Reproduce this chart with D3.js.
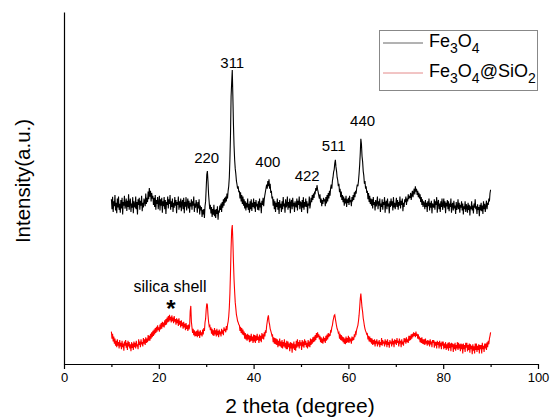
<!DOCTYPE html>
<meta charset="utf-8">
<script src="https://d3js.org/d3.v7.min.js"></script>
<style>
  body { margin: 0; background: #fff; }
  text { font-family: Arial, "Liberation Sans", sans-serif; }
</style>
<div id="chart"></div>
<script>

// 2 theta from 10 to 90 in 0.125 degree steps
var thetaStart = 10, thetaStep = 0.125

// Fe3O4 (black), one row per degree
var fe3o4 = [
  468,440,475,432,462,448,480,436, 458,428,470,445,476,438,455,430,
  466,442,472,425,460,450,478,441, 452,470,435,464,446,482,438,458,
  470,432,456,444,474,428,462,449, 446,476,440,460,425,468,452,472,
  438,464,450,478,434,458,445,470, 462,448,484,455,472,460,490,468,
  500,475,492,462,486,470,478,452, 472,446,480,438,466,455,474,440,
  460,478,436,468,450,472,430,462, 448,474,440,466,426,460,452,476,
  442,468,455,480,438,462,446,470, 432,458,444,474,450,466,428,460,
  452,476,438,462,445,470,434,458, 466,440,472,428,460,447,474,436,
  455,470,442,464,430,458,448,468, 438,462,450,476,432,456,444,466,
  452,430,460,442,468,425,450,436, 446,418,438,425,440,415,448,462,
  500,538,548,520,482,460,440,452, 428,446,418,440,424,452,420,438,
  415,440,426,448,410,436,430,450, 438,456,432,460,444,468,450,472,
  458,476,462,484,470,492,505,530, 580,650,760,800,835,760,680,620,
  580,555,540,520,510,498,505,488, 492,470,488,462,480,455,476,450,
  468,442,462,436,458,445,470,438, 455,430,462,440,468,435,458,446,
  470,442,460,432,466,448,455,438, 462,436,470,445,458,428,464,452,
  472,448,468,480,490,500,510,498, 520,505,525,498,512,486,492,470,
  476,450,468,440,462,432,458,446, 470,438,460,426,466,444,455,432,
  462,440,474,448,456,430,468,445, 452,476,438,460,444,470,428,458,
  466,440,472,448,458,432,462,450, 445,470,436,464,452,476,440,460,
  458,432,466,444,474,438,460,447, 470,446,462,428,456,450,476,442,
  455,472,460,480,466,484,472,490, 486,500,492,508,496,488,478,470,
  482,458,470,448,466,455,472,462, 468,448,474,456,480,462,486,470,
  492,478,500,510,498,520,530,545, 552,570,580,560,548,530,522,505,
  512,488,498,474,490,466,480,460, 476,450,470,456,478,446,468,458,
  472,452,478,460,466,448,474,462, 480,466,488,474,492,484,500,510,
  505,520,540,565,598,640,625,590, 575,548,535,512,520,498,505,486,
  492,468,486,460,478,455,470,450, 468,442,474,452,460,436,466,448,
  458,476,440,462,450,470,432,456, 446,468,438,460,452,474,430,458,
  464,440,470,448,456,428,462,446, 470,450,462,436,474,445,458,440,
  455,472,446,466,438,460,450,476, 442,464,452,470,434,458,446,468,
  460,476,452,470,462,482,468,478, 472,486,466,480,492,474,488,498,
  482,505,490,498,480,492,474,486, 470,482,460,474,452,468,446,462,
  456,440,466,446,458,432,462,448, 470,436,458,444,464,428,456,450,
  444,468,438,462,452,474,430,458, 466,440,456,432,462,446,470,438,
  452,470,444,462,428,458,448,466, 440,462,434,456,446,470,430,452,
  458,436,464,442,450,426,460,438, 446,468,440,458,430,452,444,462,
  436,456,425,448,440,462,432,454, 446,430,458,438,452,422,448,440,
  462,436,450,428,456,444,468,440, 448,426,454,438,446,420,452,436,
  458,434,450,426,462,440,455,432, 448,464,440,458,452,470,462,485,
  495
]

// Fe3O4@SiO2 (red)
var fe3o4sio2 = [
  92,72,86,64,78,58,72,52, 66,48,70,52,62,44,68,50,
  60,42,66,48,58,38,64,52, 68,46,60,40,66,50,62,44,
  56,36,62,46,58,40,64,48, 60,44,66,50,56,42,70,54,
  64,48,70,56,62,50,74,58, 70,54,76,60,72,62,82,66,
  80,66,86,72,90,76,94,80, 98,84,102,88,106,92,110,96,
  104,92,112,98,116,100,120,106, 118,104,124,110,128,112,132,118,
  136,120,140,124,134,118,138,122, 132,116,136,120,128,112,130,116,
  126,108,130,112,122,104,124,108, 118,100,120,104,114,96,116,100,
  110,94,112,98,106,150,165,120, 104,88,100,82,96,78,92,80,
  94,76,98,80,92,74,96,82, 90,78,98,84,102,94,118,128,
  155,172,168,140,120,108,112,96, 104,86,100,82,96,80,102,84,
  96,78,100,82,94,76,98,84, 92,78,100,86,96,82,104,94,
  100,90,108,96,112,120,135,160, 200,260,330,380,395,350,290,240,
  205,175,158,140,132,122,118,112, 110,94,106,88,102,84,98,82,
  92,72,88,70,84,66,86,70, 82,62,80,64,86,66,78,60,
  84,64,82,60,80,66,86,68, 78,60,84,66,80,62,88,72,
  84,70,90,78,96,88,108,120, 132,138,120,112,100,94,88,80,
  82,62,76,58,74,56,72,54, 70,48,66,52,72,50,64,46,
  68,44,62,50,70,46,60,42, 66,42,64,48,58,36,62,44,
  60,32,58,44,64,40,56,38, 66,46,70,50,62,44,68,52,
  62,40,68,50,64,46,70,54, 66,48,60,44,68,50,64,48,
  72,54,70,58,76,62,78,64, 82,68,88,74,90,76,84,70,
  80,62,76,60,72,58,78,64, 74,60,80,66,84,70,88,76,
  86,80,94,92,104,110,122,130, 138,140,128,118,108,100,96,88,
  90,72,86,68,82,66,78,62, 76,58,72,56,78,60,74,62,
  80,60,76,64,72,58,78,66, 76,68,84,76,90,86,98,104,
  110,122,138,160,185,200,180,160, 148,130,120,108,100,94,90,84,
  86,70,80,64,78,62,74,58, 72,54,68,56,70,50,66,58,
  70,50,64,56,68,48,62,54, 74,52,68,58,64,50,70,56,
  66,48,70,54,62,46,68,58, 64,50,72,56,66,48,70,58,
  68,54,74,60,66,50,72,62, 66,48,70,56,64,52,74,62,
  72,58,76,62,70,60,80,66, 80,68,84,72,86,76,90,80,
  88,76,92,80,86,72,84,70, 78,62,74,60,76,58,70,56,
  70,54,72,58,66,52,68,56, 66,50,70,56,64,48,68,60,
  68,46,64,52,62,44,66,54, 62,44,66,50,60,42,64,52,
  64,42,58,46,62,40,56,44, 60,38,62,46,58,36,60,48,
  58,34,56,42,60,38,54,44, 62,40,60,44,56,36,58,42,
  56,30,58,42,54,34,60,46, 60,36,54,40,58,32,56,42,
  52,28,56,38,50,30,58,40, 58,34,52,40,56,30,54,42,
  54,30,60,42,52,34,58,44, 58,40,62,48,66,56,72,80,
  90
]

var seriesColors = ["#000000", "#ff0000"]

// peak labels (hkl) and where they sit
var peakLabels = ["220", "311", "400", "422", "511", "440"]
var peakTheta  = [30.1, 35.5, 43.0, 51.3, 56.9, 63.0]
var peakLabelY = [571, 840, 561, 521, 606, 676]

var majorTicks = [0, 20, 40, 60, 80, 100]
var minorTicks = [10, 30, 50, 70, 90]

var width = 550, height = 419

var svg = d3.select("#chart").append("svg")
  .attr("width", width)
  .attr("height", height)

var x = d3.scaleLinear().domain([0, 100]).range([64, 538])
var y = d3.scaleLinear().domain([0, 1000]).range([364, 12])

function toPoints(arr) {
  return arr.map(function(v, i) { return [thetaStart + i * thetaStep, v] })
}

var line = d3.line()
  .x(function(d) { return x(d[0]) })
  .y(function(d) { return y(d[1]) })

// traces
var allSeries = [fe3o4, fe3o4sio2]
allSeries.forEach(function(s, k) {
  svg.append("path")
    .datum(toPoints(s))
    .attr("fill", "none")
    .attr("stroke", seriesColors[k])
    .attr("stroke-width", 1.1)
    .attr("d", line)
})

// axes
var xAxis = svg.append("g")
  .attr("transform", "translate(0," + y(0) + ")")
  .call(d3.axisBottom(x).tickValues(majorTicks).tickSize(5).tickSizeOuter(0).tickPadding(4))
xAxis.selectAll("text").style("font-size", "13px").attr("fill", "#000")
xAxis.selectAll("line, path").attr("stroke", "#000").attr("stroke-width", 1.2)

svg.append("g")
  .attr("transform", "translate(0," + y(0) + ")")
  .call(d3.axisBottom(x).tickValues(minorTicks).tickSize(3).tickFormat(""))
  .call(function(g) { g.select(".domain").remove() })
  .selectAll("line").attr("stroke", "#000").attr("stroke-width", 1.2)

svg.append("g")
  .attr("transform", "translate(" + x(0) + ",0)")
  .call(d3.axisLeft(y).tickValues([]).tickSizeOuter(0))
  .select(".domain").attr("stroke", "#000").attr("stroke-width", 1.2)

// axis titles
svg.append("text")
  .attr("x", 300).attr("y", 413)
  .attr("text-anchor", "middle")
  .style("font-size", "21px")
  .text("2 theta (degree)")

svg.append("text")
  .attr("transform", "translate(30,181) rotate(-90)")
  .attr("text-anchor", "middle")
  .style("font-size", "20.5px")
  .text("Intensity(a.u.)")

// hkl labels
svg.selectAll(".peak")
  .data(peakLabels)
  .enter()
  .append("text")
  .attr("class", "peak")
  .attr("x", function(d, i) { return x(peakTheta[i]) })
  .attr("y", function(d, i) { return y(peakLabelY[i]) })
  .attr("text-anchor", "middle")
  .style("font-size", "15px")
  .text(function(d) { return d })

// silica shell note
svg.append("text")
  .attr("x", 170).attr("y", 292)
  .attr("text-anchor", "middle")
  .style("font-size", "16px")
  .text("silica shell")
svg.append("text")
  .attr("x", 171).attr("y", 317)
  .attr("text-anchor", "middle")
  .style("font-size", "24px")
  .style("font-weight", "bold")
  .text("*")

// legend
var legend = svg.append("g")
legend.append("rect")
  .attr("x", 379.5).attr("y", 30.5)
  .attr("width", 158).attr("height", 60)
  .attr("fill", "#fff")
  .attr("stroke", "#888")

var legendLineColors = ["#666666", "#e48a8a"]
var legendRows = [43, 73]
legendRows.forEach(function(ry, k) {
  legend.append("line")
    .attr("x1", 383).attr("x2", 423)
    .attr("y1", ry).attr("y2", ry)
    .attr("stroke", legendLineColors[k])
    .attr("stroke-width", 1)
  var t = legend.append("text")
    .attr("x", 429).attr("y", ry + 4)
    .style("font-size", "18px")
  t.append("tspan").text("Fe")
  t.append("tspan").attr("dy", 6).style("font-size", "14px").text("3")
  t.append("tspan").attr("dy", -6).text("O")
  t.append("tspan").attr("dy", 6).style("font-size", "14px").text("4")
  if (k == 1) {
    t.append("tspan").attr("dy", -6).text("@SiO")
    t.append("tspan").attr("dy", 6).style("font-size", "14px").text("2")
  }
})

</script>
